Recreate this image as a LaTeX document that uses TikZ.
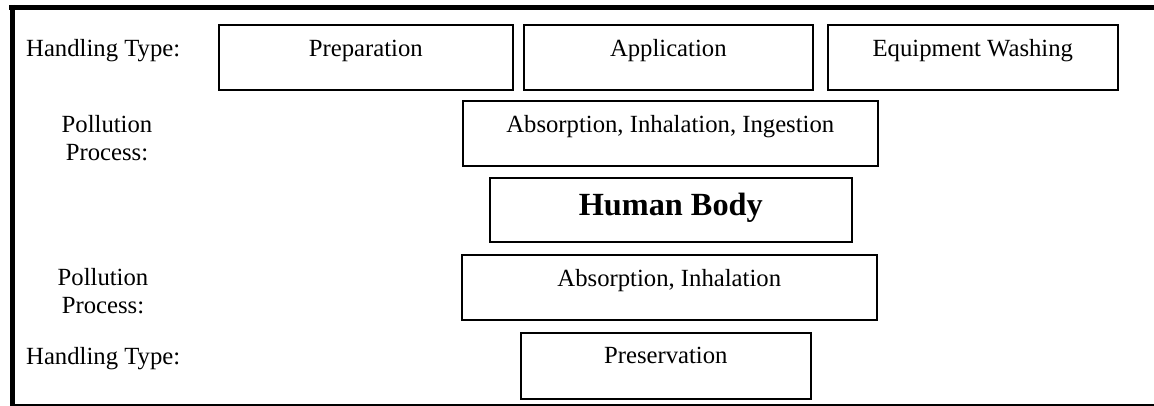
\documentclass[tikz,border=0pt]{standalone}
\usepackage{fontspec}
\setmainfont{Liberation Serif}
\begin{document}
\begin{tikzpicture}[x=1pt,y=-1pt,
  every node/.style={font=\fontsize{24.7}{28}\selectfont},
  bx/.style={draw, line width=1.6pt, inner sep=0pt, anchor=north west,
             text height=32pt, text depth=33pt, align=center},
  lbl/.style={inner sep=0pt, anchor=base west},
  plbl/.style={inner sep=0pt, anchor=base, align=center}]
\useasboundingbox (0,0) rectangle (1154,406);
% frame
\coordinate (tl) at (12,5);
\coordinate (tr) at (1154,7.5);
\coordinate (bl) at (12,405);
\coordinate (br) at (1154,405);
\draw[line width=5pt] (tl |- tr) ++(-3,0) -- (tr);
\draw[line width=5pt] (tl) -- (12,406);
\draw[line width=1.5pt] (bl) -- (br);
% top row
\node[lbl] (ht1) at (26,57) {Handling Type:};
\node[bx, minimum width=294pt] (prep) at (218,24) {Preparation};
\node[bx, minimum width=289pt] (appl) at (523,24) {Application};
\node[bx, minimum width=290pt] (wash) at (827,24) {Equipment Washing};
% pollution process 1
\node[plbl] (pp1) at (107,161) {Pollution\\Process:};
\node[bx, minimum width=415pt] (abs1) at (462,100) {Absorption, Inhalation, Ingestion};
% human body
\node[bx, minimum width=362pt, text height=38pt, text depth=26pt,
      font=\fontsize{32.3}{36}\selectfont\bfseries] (body) at (489,177) {Human Body};
% pollution process 2
\node[plbl] (pp2) at (103,313) {Pollution\\Process:};
\node[bx, minimum width=415pt] (abs2) at (461,254) {Absorption, Inhalation};
% bottom row
\node[lbl] (ht2) at (26,364) {Handling Type:};
\node[bx, minimum width=290pt, text height=31pt, text depth=35pt] (pres) at (520,332) {Preservation};
\end{tikzpicture}
\end{document}
